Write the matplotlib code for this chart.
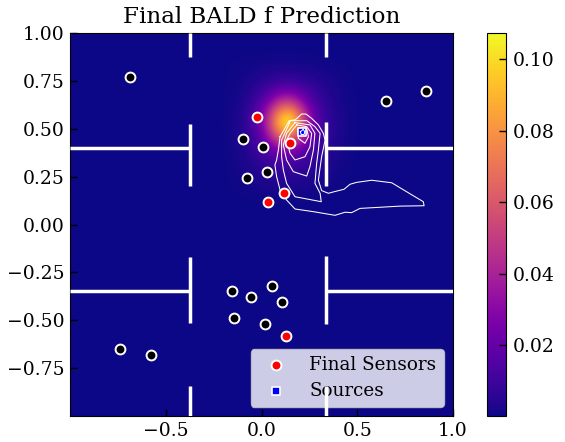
import numpy as np
import matplotlib
matplotlib.use("Agg")
import matplotlib.pyplot as plt

plt.rcParams["font.family"] = "DejaVu Serif"

# sensors / sources
other_x = [-0.687, 0.650, 0.859, -0.097, 0.008, 0.029, -0.076, -0.154, 0.055, -0.055, 0.107, -0.144, 0.018, -0.739, -0.577]
other_y = [0.770, 0.645, 0.697, 0.446, 0.405, 0.274, 0.243, -0.347, -0.321, -0.379, -0.405, -0.488, -0.520, -0.650, -0.681]
final_x = [-0.023, 0.149, 0.117, 0.034, 0.128]
final_y = [0.561, 0.426, 0.164, 0.117, -0.582]
source_x = [0.211]
source_y = [0.483]

# heat map estimate around the peak, cells are 0.05 wide
background = 0.0006
patch_x = [-0.15, -0.10, -0.05, 0.0, 0.05, 0.10, 0.15, 0.20, 0.25, 0.30, 0.35, 0.40, 0.45]
patch_y = [0.85, 0.80, 0.75, 0.70, 0.65, 0.60, 0.55, 0.50, 0.45, 0.40, 0.35, 0.30, 0.25, 0.20, 0.15]
patch = [
    [.0007, .0008, .0009, .001, .0012, .0014, .0014, .0012, .001, .0009, .0008, .0007, .0006],
    [.0008, .001, .0015, .0025, .0035, .004, .004, .0035, .003, .002, .0015, .001, .0007],
    [.0009, .0015, .003, .005, .007, .009, .009, .0075, .006, .004, .0025, .0015, .0008],
    [.001, .002, .005, .009, .015, .022, .023, .018, .011, .007, .004, .002, .001],
    [.0012, .003, .0075, .015, .028, .043, .046, .033, .018, .009, .005, .0025, .001],
    [.0014, .004, .010, .022, .045, .072, .077, .055, .028, .013, .006, .003, .0012],
    [.0015, .0045, .012, .026, .057, .094, .107, .069, .033, .015, .007, .0035, .0012],
    [.0015, .0045, .011, .025, .052, .087, .094, .065, .032, .014, .007, .0035, .0012],
    [.0014, .004, .009, .019, .038, .061, .064, .046, .025, .012, .006, .003, .001],
    [.0012, .003, .007, .013, .023, .032, .035, .026, .015, .009, .005, .0025, .001],
    [.001, .0025, .005, .009, .013, .016, .017, .014, .0095, .006, .004, .002, .001],
    [.0009, .002, .0035, .0055, .008, .009, .009, .0085, .006, .0045, .003, .0015, .0008],
    [.0008, .0015, .0025, .004, .005, .0055, .0055, .005, .004, .003, .002, .001, .0007],
    [.0007, .001, .0015, .002, .0025, .003, .003, .0025, .002, .0015, .001, .0008, .0006],
    [.0006, .0007, .0008, .0009, .001, .0012, .0012, .001, .0009, .0008, .0007, .0006, .0006],
]

# contour lines of the source density
contour_lines = [
    [(0.097, 0.459), (0.088, 0.389), (0.079, 0.337), (0.070, 0.311), (0.079, 0.250), (0.097, 0.180),
     (0.131, 0.128), (0.175, 0.081), (0.271, 0.067), (0.384, 0.048), (0.436, 0.064), (0.471, 0.062),
     (0.514, 0.084), (0.619, 0.090), (0.723, 0.096), (0.849, 0.098), (0.845, 0.119), (0.758, 0.171),
     (0.680, 0.218), (0.575, 0.231), (0.497, 0.220), (0.462, 0.210), (0.431, 0.184), (0.379, 0.171),
     (0.349, 0.163), (0.314, 0.177), (0.297, 0.232), (0.314, 0.354), (0.332, 0.441), (0.323, 0.476),
     (0.297, 0.520), (0.262, 0.554), (0.232, 0.577), (0.210, 0.577), (0.175, 0.546), (0.145, 0.542),
     (0.097, 0.459)],
    [(0.145, 0.528), (0.105, 0.441), (0.105, 0.354), (0.114, 0.285), (0.131, 0.215), (0.175, 0.145),
     (0.218, 0.137), (0.312, 0.119), (0.306, 0.163), (0.279, 0.215), (0.288, 0.319), (0.297, 0.389),
     (0.306, 0.476), (0.279, 0.511), (0.236, 0.542), (0.149, 0.542), (0.145, 0.528)],
    [(0.175, 0.532), (0.131, 0.476), (0.114, 0.415), (0.131, 0.337), (0.166, 0.276), (0.236, 0.253),
     (0.253, 0.302), (0.271, 0.389), (0.279, 0.476), (0.253, 0.520), (0.175, 0.532)],
    [(0.184, 0.520), (0.149, 0.476), (0.131, 0.441), (0.149, 0.372), (0.175, 0.337), (0.227, 0.354),
     (0.253, 0.406), (0.262, 0.476), (0.236, 0.511), (0.184, 0.520)],
    [(0.192, 0.502), (0.236, 0.502), (0.245, 0.458), (0.227, 0.424), (0.192, 0.450), (0.192, 0.502)],
]
# smallest ring sits on top of the source marker
inner_x = [0.203, 0.218, 0.226, 0.222, 0.207, 0.203]
inner_y = [0.484, 0.497, 0.484, 0.469, 0.470, 0.484]

# walls as (x0, y0, x1, y1)
walls = [
    (-1.0, 0.40, -0.375, 0.40), (0.337, 0.40, 1.0, 0.40),
    (-1.0, -0.347, -0.375, -0.347), (0.337, -0.347, 1.0, -0.347),
    (-0.375, 1.0, -0.375, 0.875), (-0.375, 0.525, -0.375, 0.20),
    (0.337, 1.0, 0.337, 0.875), (0.337, 0.535, 0.337, 0.20),
    (-0.375, -0.17, -0.375, -0.514), (0.337, -0.165, 0.337, -0.52),
    (-0.375, -0.843, -0.375, -1.0), (0.337, -0.843, 0.337, -1.0),
]

x_ticks = [-0.5, 0.0, 0.5, 1.0]
y_ticks = [-0.75, -0.5, -0.25, 0.0, 0.25, 0.5, 0.75, 1.0]
cbar_ticks = [0.02, 0.04, 0.06, 0.08, 0.10]

field = np.full((41, 41), background)
for i, py in enumerate(patch_y):
    for j, px in enumerate(patch_x):
        field[int(round((py + 1.0) / 0.05)), int(round((px + 1.0) / 0.05))] = patch[i][j]

W, H = 565, 442
fig = plt.figure(figsize=(W / 100, H / 100), dpi=100)
ax = fig.add_axes([70 / W, 1 - 416 / H, 383 / W, 383 / H])
im = ax.imshow(field, origin="lower", extent=[-1.025, 1.025, -1.025, 1.025], cmap="plasma", vmin=0.0003, vmax=0.1073,
               interpolation="bicubic", aspect="auto")

for line in contour_lines:
    xs, ys = zip(*line)
    ax.plot(xs, ys, color="white", lw=0.75, zorder=3)

ax.scatter(other_x, other_y, s=50, c="black", edgecolors="white", linewidths=1.4, zorder=4)
ax.scatter(final_x, final_y, s=50, c="red", edgecolors="white", linewidths=1.4, zorder=4, label="Final Sensors")
ax.scatter(source_x, source_y, s=38, c="blue", marker="s", edgecolors="white", linewidths=1.2, zorder=4, label="Sources")
ax.plot(inner_x, inner_y, color="white", lw=0.75, zorder=4.5)

for x0, y0, x1, y1 in walls:
    ax.plot([x0, x1], [y0, y1], color="white", lw=2.5, solid_capstyle="butt", zorder=6)

ax.set_xlim(-1, 1)
ax.set_ylim(-1, 1)
ax.set_xticks(x_ticks)
ax.set_yticks(y_ticks)
ax.set_yticklabels(["\u22120.75", "\u22120.50", "\u22120.25", "0.00", "0.25", "0.50", "0.75", "1.00"])
ax.tick_params(direction="in", labelsize=13.5, length=5, width=1, pad=4)
ax.set_title("Final BALD f Prediction", fontsize=16.6, pad=7)

leg = ax.legend(loc="lower right", fontsize=13.2, framealpha=0.8, borderaxespad=0.5, labelspacing=0.4)
leg.set_zorder(5)

cax = fig.add_axes([487 / W, 1 - 416 / H, 19 / W, 383 / H])
cbar = fig.colorbar(im, cax=cax)
cbar.set_ticks(cbar_ticks)
cbar.ax.tick_params(direction="in", labelsize=13.5, length=5, width=1, pad=5)

fig.savefig("out.png", dpi=100)
